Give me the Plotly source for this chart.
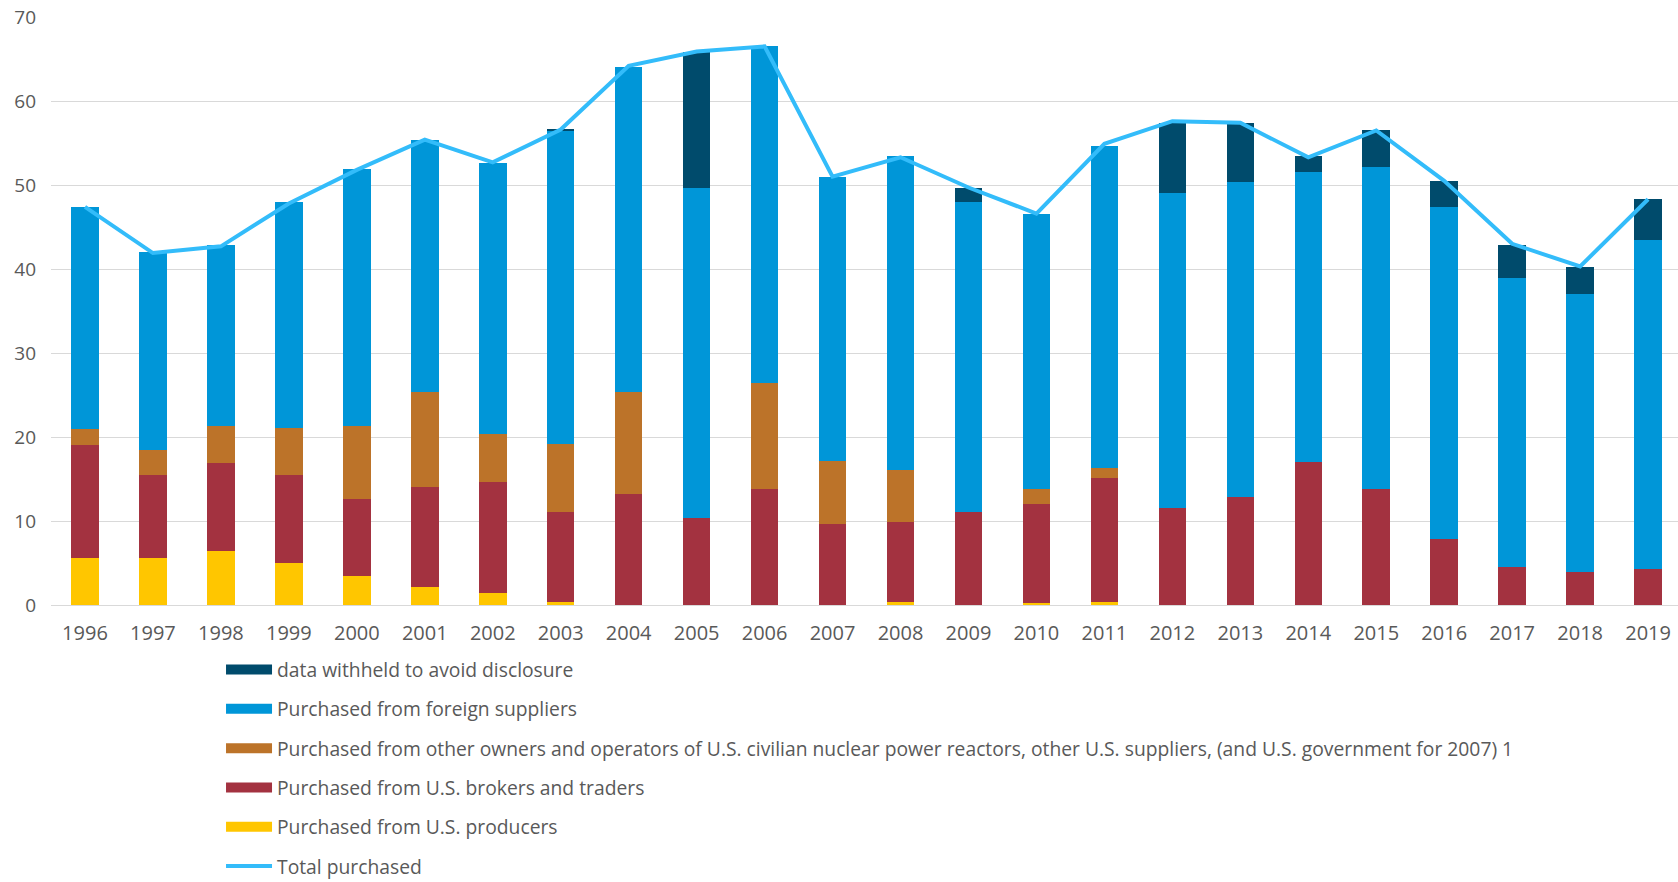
import plotly.graph_objects as go

# Uranium purchases by owners and operators of U.S. civilian nuclear power reactors
years = [str(y) for y in range(1996, 2020)]

producers = [5.6, 5.6, 6.4, 5.0, 3.5, 2.2, 1.4, 0.4, 0, 0, 0, 0,
             0.4, 0, 0.2, 0.4, 0, 0, 0, 0, 0, 0, 0, 0]
brokers = [13.4, 9.9, 10.5, 10.5, 9.1, 11.8, 13.3, 10.7, 13.2, 10.3, 13.8, 9.7,
           9.5, 11.1, 11.8, 14.7, 11.5, 12.8, 17.0, 13.8, 7.8, 4.5, 3.9, 4.3]
other_owners = [2.0, 2.9, 4.4, 5.6, 8.7, 11.4, 5.7, 8.1, 12.2, 0, 12.6, 7.5,
                6.2, 0, 1.8, 1.2, 0, 0, 0, 0, 0, 0, 0, 0]
foreign = [26.4, 23.6, 21.5, 26.9, 30.6, 29.9, 32.2, 37.3, 38.6, 39.4, 40.1, 33.7,
           37.3, 36.9, 32.8, 38.4, 37.6, 37.5, 34.5, 38.3, 39.6, 34.4, 33.1, 39.2]
withheld = [0, 0, 0, 0, 0, 0, 0, 0.2, 0, 16.1, 0, 0,
            0, 1.7, 0, 0, 8.3, 7.1, 1.9, 4.4, 3.1, 4.0, 3.2, 4.8]
total = [47.4, 41.9, 42.7, 47.8, 51.8, 55.4, 52.7, 56.6, 64.2, 65.9, 66.5, 51.0,
         53.3, 49.7, 46.6, 54.9, 57.6, 57.4, 53.3, 56.5, 50.5, 43.0, 40.3, 48.3]

names = {
    "withheld": "data withheld to avoid disclosure",
    "foreign": "Purchased from foreign suppliers",
    "other": "Purchased from other owners and operators of U.S. civilian nuclear power "
             "reactors, other U.S. suppliers, (and U.S. government for 2007) 1",
    "brokers": "Purchased from U.S. brokers and traders",
    "producers": "Purchased from U.S. producers",
    "total": "Total purchased",
}
colors = {
    "withheld": "#004B6C",
    "foreign": "#0096D8",
    "other": "#BC7329",
    "brokers": "#A33240",
    "producers": "#FFC600",
    "total": "#33BCFA",
}

TEXT = "#595959"
FONT = "Open Sans"

fig = go.Figure()

# stacked bars, bottom to top
stack = [("producers", producers), ("brokers", brokers), ("other", other_owners),
         ("foreign", foreign), ("withheld", withheld)]
for key, vals in stack:
    fig.add_trace(go.Bar(
        x=years, y=vals, name=names[key], marker=dict(color=colors[key], line=dict(width=0)),
        showlegend=False,
    ))

fig.add_trace(go.Scatter(
    x=years, y=total, mode="lines", name=names["total"],
    line=dict(color=colors["total"], width=4), showlegend=False,
))

# legend entries with wide swatches
legend_order = ["withheld", "foreign", "other", "brokers", "producers", "total"]
for rank, key in enumerate(legend_order):
    fig.add_trace(go.Scatter(
        x=[None], y=[None], mode="lines", name=names[key],
        line=dict(color=colors[key], width=4 if key == "total" else 13),
        legendgroup=key, legendrank=rank + 1, showlegend=True,
    ))

fig.update_layout(
    width=1678, height=882,
    barmode="stack", bargap=0.595,
    plot_bgcolor="white", paper_bgcolor="white",
    margin=dict(l=51, r=0, t=17, b=277, autoexpand=False),
    font=dict(family=FONT, color=TEXT, size=19),
    legend=dict(
        orientation="v", x=0.1045, xanchor="left", y=-0.0774, yanchor="top",
        traceorder="grouped", tracegroupgap=11.2, itemwidth=46,
        font=dict(family=FONT, size=19.3, color=TEXT), bgcolor="rgba(0,0,0,0)",
    ),
    xaxis=dict(
        type="category", range=[-0.5, 23.44], showgrid=False, showline=False,
        ticks="", tickfont=dict(size=20, color=TEXT), ticklabelstandoff=14,
    ),
    yaxis=dict(
        range=[0, 70], dtick=10, showgrid=True, gridcolor="#D9D9D9", gridwidth=1,
        zeroline=True, zerolinecolor="#D9D9D9", zerolinewidth=1, showline=False,
        ticks="", tickfont=dict(size=19, color=TEXT), ticklabelstandoff=14,
    ),
)

fig.write_html("out.html")
